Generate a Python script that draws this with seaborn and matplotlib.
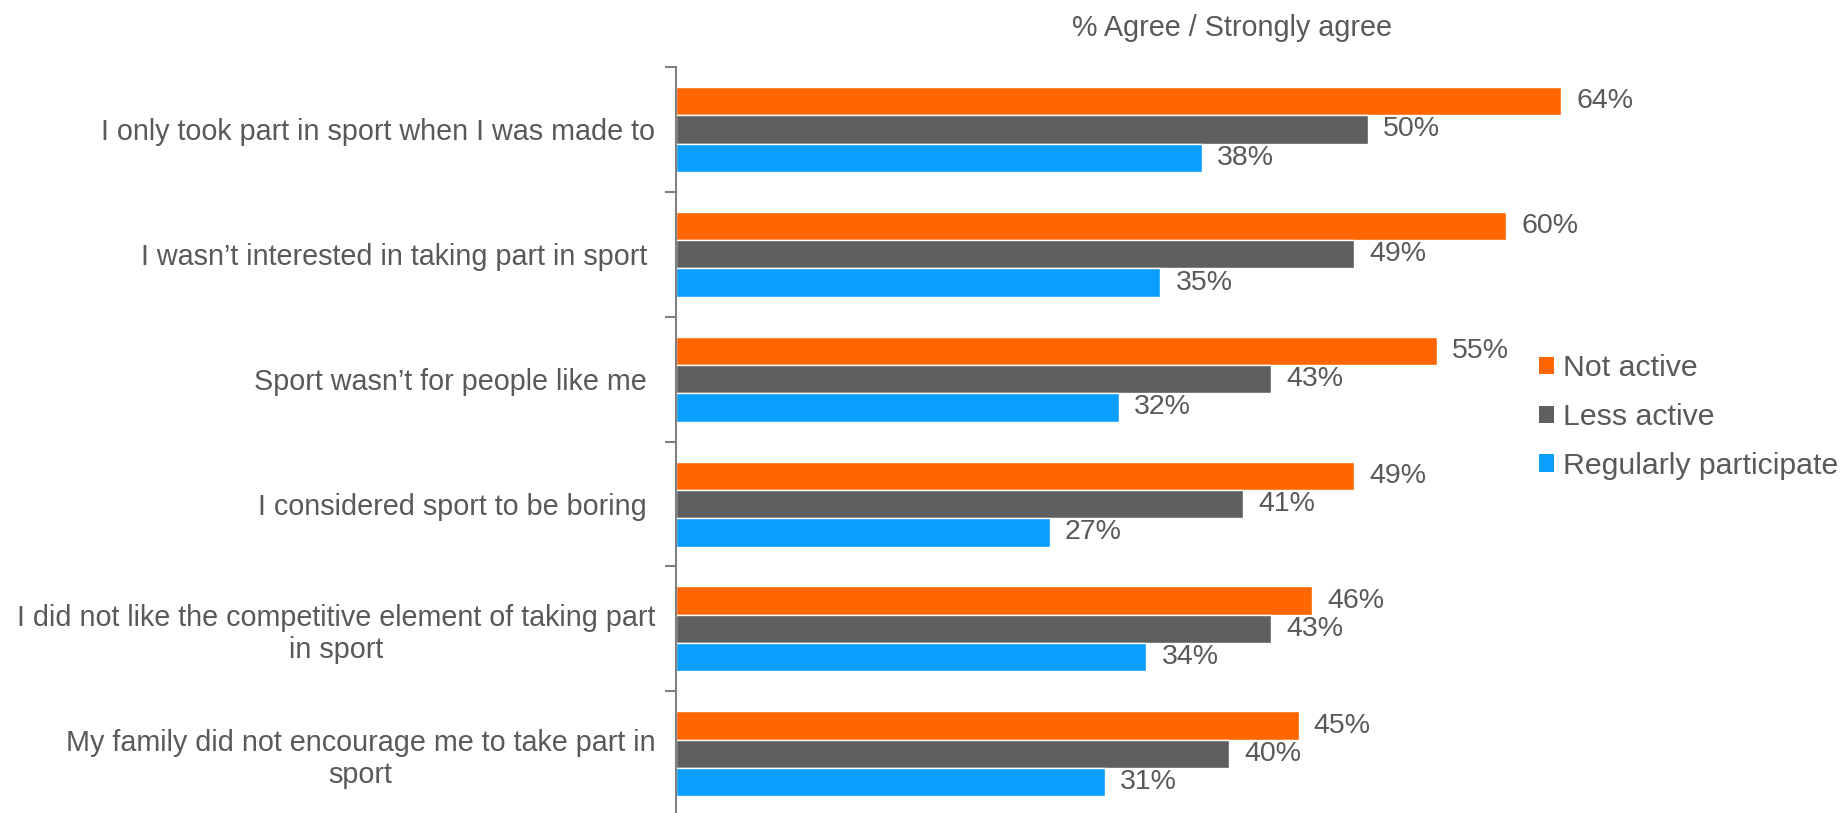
import matplotlib
matplotlib.use("Agg")
import matplotlib.pyplot as plt
from matplotlib.patches import Patch
import numpy as np
import pandas as pd
import seaborn as sns

statements = [
    "I only took part in sport when I was made to",
    "I wasn\u2019t interested in taking part in sport ",
    "Sport wasn\u2019t for people like me ",
    "I considered sport to be boring ",
    "I did not like the competitive element of taking part\nin sport",
    "My family did not encourage me to take part in\nsport",
]
groups = ["Not active", "Less active", "Regularly participate"]
not_active = [64, 60, 55, 49, 46, 45]
less_active = [50, 49, 43, 41, 43, 40]
regular = [38, 35, 32, 27, 34, 31]
colors = ["#FF6600", "#5F5F5F", "#0A9EFF"]

TEXT = "#595959"

df = pd.DataFrame({
    "statement": statements * 3,
    "group": np.repeat(groups, len(statements)),
    "value": not_active + less_active + regular,
})

sns.set_theme(style="white")
plt.rcParams["font.family"] = ["Liberation Sans", "DejaVu Sans"]

fig = plt.figure(figsize=(18.45, 8.13), dpi=100)
ax = fig.add_axes([0.3664, -0.004, 0.6336, 0.9216])

sns.barplot(data=df, y="statement", x="value", hue="group", order=statements,
            hue_order=groups, palette=colors, width=0.68, orient="h",
            saturation=1, ax=ax, legend=False, errorbar=None)

for cont in ax.containers:
    ax.bar_label(cont, fmt="{:.0f}%", padding=11, fontsize=20.5, color=TEXT)

n = len(statements)
ax.set_xlim(0, 84.5)
ax.set_ylim(n - 0.5, -0.5)
ax.set_xlabel("")
ax.set_ylabel("")
ax.set_xticks([])

for s in ["top", "right", "bottom"]:
    ax.spines[s].set_visible(False)
ax.spines["left"].set_color("#808080")
ax.spines["left"].set_linewidth(1.5)

ax.tick_params(axis="y", which="major", length=0, pad=15, labelsize=20.7, labelcolor=TEXT)
ax.set_yticks(np.arange(-0.5, n, 1.0), minor=True)
ax.tick_params(axis="y", which="minor", length=8, width=1.5, color="#808080", left=True)
for lab in ax.get_yticklabels():
    lab.set_multialignment("center")

fig.text(0.6678, 0.966, "% Agree / Strongly agree", ha="center", va="center",
         fontsize=20.7, color=TEXT)

handles = [Patch(facecolor=c, edgecolor="none") for c in colors]
fig.legend(handles, groups, loc="center left", bbox_to_anchor=(0.8195, 0.487),
           frameon=False, fontsize=21.8, labelcolor=TEXT, handlelength=0.5,
           handleheight=0.5, handletextpad=0.28, labelspacing=0.68)

fig.savefig("out.png", dpi=100, facecolor="white")
